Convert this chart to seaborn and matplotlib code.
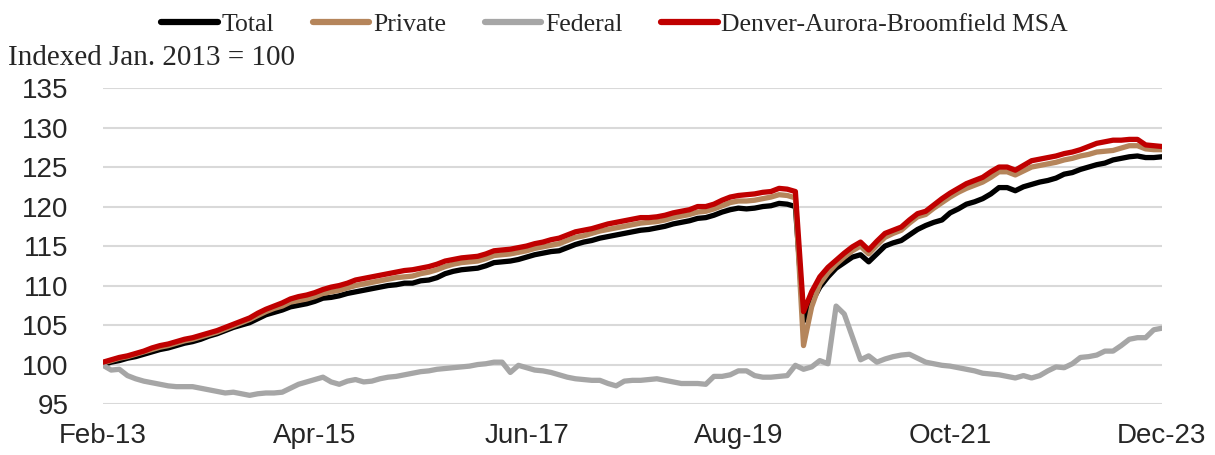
import pandas as pd
import matplotlib.pyplot as plt
import seaborn as sns

# Monthly employment indexes, Feb-13 .. Dec-23 (Jan. 2013 = 100)
total = [100.0, 100.3, 100.5, 100.8, 101.0, 101.3, 101.6, 101.9, 102.1, 102.4,
         102.7, 102.9, 103.2, 103.6, 103.9, 104.3, 104.7, 105.0, 105.3, 105.8,
         106.3, 106.6, 106.9, 107.3, 107.5, 107.7, 108.0, 108.4, 108.5, 108.7,
         109.0, 109.2, 109.4, 109.6, 109.8, 110.0, 110.1, 110.3, 110.3, 110.6,
         110.7, 111.0, 111.5, 111.8, 112.0, 112.1, 112.2, 112.5, 112.9, 113.0,
         113.1, 113.3, 113.6, 113.9, 114.1, 114.3, 114.4, 114.8, 115.2, 115.5,
         115.7, 116.0, 116.2, 116.4, 116.6, 116.8, 117.0, 117.1, 117.3, 117.5,
         117.8, 118.0, 118.2, 118.5, 118.6, 118.9, 119.3, 119.6, 119.8, 119.7,
         119.8, 120.0, 120.1, 120.4, 120.3, 120.0, 105.5, 107.9, 109.8, 111.1,
         112.2, 112.9, 113.6, 113.9, 113.0, 114.0, 115.0, 115.4, 115.7, 116.4,
         117.1, 117.6, 118.0, 118.3, 119.2, 119.7, 120.3, 120.6, 121.0, 121.6,
         122.4, 122.4, 122.0, 122.5, 122.8, 123.1, 123.3, 123.6, 124.1, 124.3,
         124.7, 125.0, 125.3, 125.5, 125.9, 126.1, 126.3, 126.4, 126.2, 126.2,
         126.3]

private = [100.2, 100.5, 100.8, 101.0, 101.3, 101.6, 101.9, 102.2, 102.4, 102.7,
           103.0, 103.2, 103.5, 103.8, 104.1, 104.5, 104.9, 105.3, 105.7, 106.2,
           106.7, 107.1, 107.4, 107.9, 108.1, 108.3, 108.6, 109.0, 109.2, 109.4,
           109.7, 110.0, 110.2, 110.4, 110.6, 110.8, 111.0, 111.1, 111.2, 111.5,
           111.7, 112.0, 112.4, 112.7, 112.9, 113.0, 113.1, 113.4, 113.8, 113.9,
           114.0, 114.2, 114.4, 114.7, 114.9, 115.1, 115.3, 115.7, 116.1, 116.3,
           116.6, 116.9, 117.1, 117.3, 117.5, 117.7, 117.9, 118.0, 118.1, 118.3,
           118.6, 118.8, 119.0, 119.3, 119.4, 119.7, 120.1, 120.5, 120.7, 120.7,
           120.8, 121.0, 121.2, 121.5, 121.4, 121.1, 102.4, 107.3, 110.2, 111.6,
           112.7, 113.6, 114.4, 115.0, 114.0, 115.1, 116.1, 116.6, 117.0, 117.9,
           118.7, 119.0, 119.8, 120.5, 121.2, 121.8, 122.3, 122.7, 123.1, 123.7,
           124.4, 124.4, 124.0, 124.5, 125.0, 125.2, 125.4, 125.6, 125.9, 126.1,
           126.4, 126.6, 126.9, 127.0, 127.1, 127.4, 127.7, 127.7, 127.3, 127.2,
           127.2]

federal = [99.9, 99.3, 99.4, 98.6, 98.2, 97.9, 97.7, 97.5, 97.3, 97.2,
           97.2, 97.2, 97.0, 96.8, 96.6, 96.4, 96.5, 96.3, 96.1, 96.3,
           96.4, 96.4, 96.5, 97.0, 97.5, 97.8, 98.1, 98.4, 97.8, 97.5,
           97.9, 98.1, 97.8, 97.9, 98.2, 98.4, 98.5, 98.7, 98.9, 99.1,
           99.2, 99.4, 99.5, 99.6, 99.7, 99.8, 100.0, 100.1, 100.3, 100.3,
           99.0, 99.9, 99.6, 99.3, 99.2, 99.0, 98.7, 98.4, 98.2, 98.1,
           98.0, 98.0, 97.6, 97.3, 97.9, 98.0, 98.0, 98.1, 98.2, 98.0,
           97.8, 97.6, 97.6, 97.6, 97.5, 98.5, 98.5, 98.7, 99.2, 99.2,
           98.6, 98.4, 98.4, 98.5, 98.6, 99.9, 99.4, 99.7, 100.5, 100.1,
           107.4, 106.4, 103.5, 100.6, 101.1, 100.3, 100.7, 101.0, 101.2, 101.3,
           100.8, 100.3, 100.1, 99.9, 99.8, 99.6, 99.4, 99.2, 98.9, 98.8,
           98.7, 98.5, 98.3, 98.6, 98.3, 98.6, 99.2, 99.7, 99.6, 100.1,
           100.9, 101.0, 101.2, 101.7, 101.7, 102.4, 103.2, 103.4, 103.4, 104.4,
           104.6]

denver = [100.3, 100.6, 100.9, 101.1, 101.4, 101.7, 102.1, 102.4, 102.6, 102.9,
          103.2, 103.4, 103.7, 104.0, 104.3, 104.7, 105.1, 105.5, 105.9, 106.5,
          107.0, 107.4, 107.8, 108.3, 108.6, 108.8, 109.1, 109.5, 109.8, 110.0,
          110.3, 110.7, 110.9, 111.1, 111.3, 111.5, 111.7, 111.9, 112.0, 112.2,
          112.4, 112.7, 113.1, 113.3, 113.5, 113.6, 113.7, 114.0, 114.4, 114.5,
          114.6, 114.8, 115.0, 115.3, 115.5, 115.8, 116.0, 116.4, 116.8, 117.0,
          117.2, 117.5, 117.8, 118.0, 118.2, 118.4, 118.6, 118.6, 118.7, 118.9,
          119.2, 119.4, 119.6, 120.0, 120.0, 120.3, 120.8, 121.2, 121.4, 121.5,
          121.6, 121.8, 121.9, 122.3, 122.2, 121.9, 106.7, 109.2, 111.1, 112.3,
          113.2, 114.1, 114.9, 115.5, 114.5, 115.6, 116.6, 117.0, 117.4, 118.3,
          119.1, 119.4, 120.2, 121.0, 121.7, 122.3, 122.9, 123.3, 123.7, 124.4,
          125.0, 125.0, 124.6, 125.2, 125.8, 126.0, 126.2, 126.4, 126.7, 126.9,
          127.2, 127.6, 128.0, 128.2, 128.4, 128.4, 128.5, 128.5, 127.8, 127.7,
          127.6]

tick_labels = ['Feb-13', 'Apr-15', 'Jun-17', 'Aug-19', 'Oct-21', 'Dec-23']
series = ['Total', 'Private', 'Federal', 'Denver-Aurora-Broomfield MSA']
colors = ['#000000', '#B5855B', '#A6A6A6', '#C00000']

df = pd.DataFrame({'Total': total, 'Private': private, 'Federal': federal,
                   'Denver-Aurora-Broomfield MSA': denver})
df['month'] = range(len(df))
long = df.melt(id_vars='month', var_name='series', value_name='index')

sns.set_style('white')
plt.rcParams['font.family'] = ['Liberation Sans', 'DejaVu Sans']

fig = plt.figure(figsize=(12.15, 4.55), dpi=100)
ax = fig.add_axes([0.0848, 0.112, 0.8715, 0.6945])

sns.lineplot(data=long, x='month', y='index', hue='series', hue_order=series,
             palette=colors, linewidth=3.8, ax=ax, legend=False)

ax.set_xlim(0, 130)
ax.set_ylim(95, 135)
ax.set_yticks(range(95, 136, 5))
ax.set_xticks(range(0, 131, 26))
ax.set_xticklabels(tick_labels)
ax.grid(axis='y', color='#D9D9D9', linewidth=1.5)
ax.set_axisbelow(True)
for s in ax.spines.values():
    s.set_visible(False)
ax.tick_params(axis='both', length=0, labelsize=20)
ax.tick_params(axis='y', pad=25)
ax.tick_params(axis='x', pad=14)
ax.set_xlabel('')
ax.set_ylabel('')

handles = [plt.Line2D([], [], color=c, linewidth=4.5) for c in colors]
fig.legend(handles, series, loc='center', bbox_to_anchor=(0.506, 1 - 25 / 455),
           ncol=4, frameon=False, handlelength=2.2, handletextpad=0.15,
           columnspacing=1.5, prop={'family': 'Liberation Serif', 'size': 18.5})

fig.text(8 / 1215, 1 - 58 / 455, 'Indexed Jan. 2013 = 100', ha='left', va='center',
         fontsize=21, family='Liberation Serif')

fig.savefig('out.png', dpi=100)
